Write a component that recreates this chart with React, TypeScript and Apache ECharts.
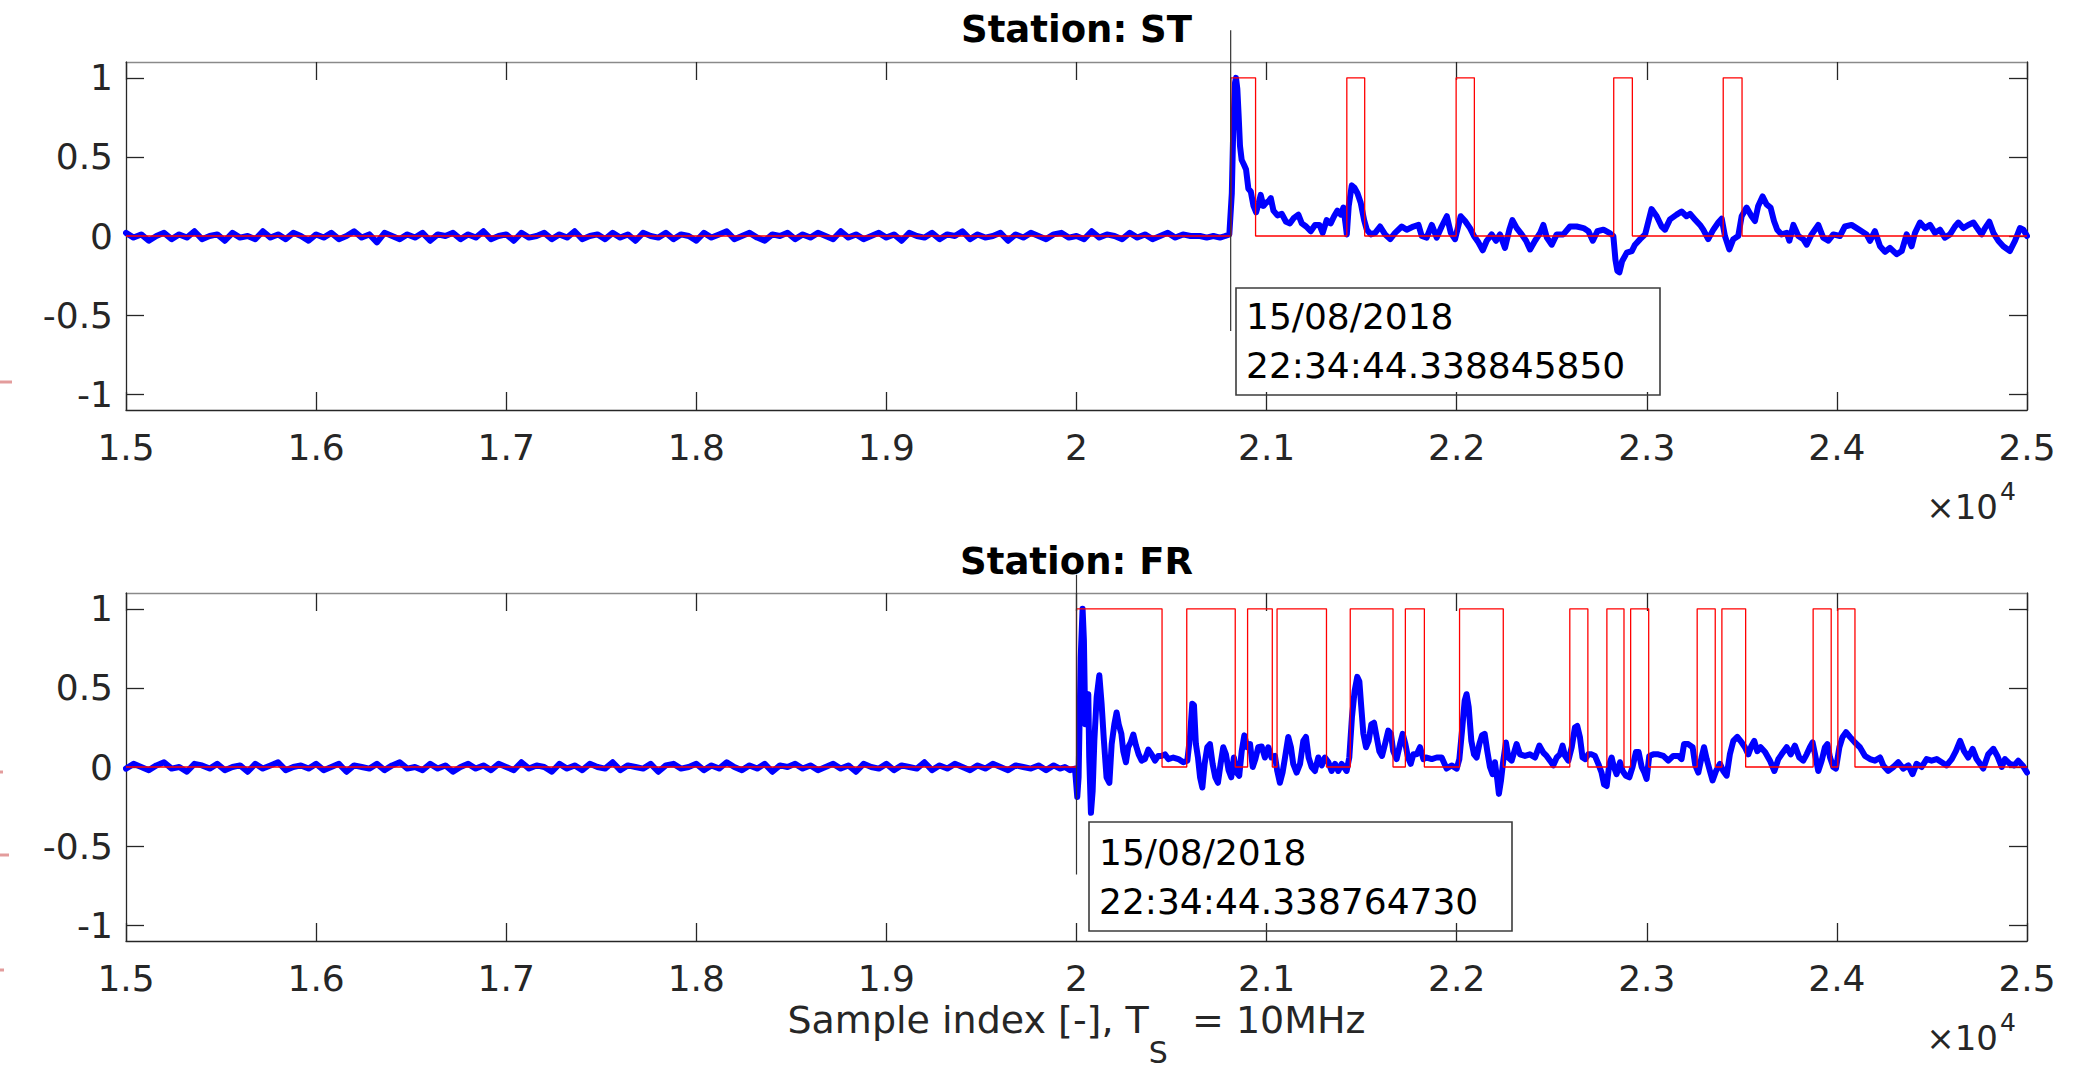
import React, { useEffect, useRef } from 'react';
import * as echarts from 'echarts';

// ---------------- data ----------------
const X_MIN = 15000;
const X_MAX = 25000;
const X_STEP = 1000;
const Y_MIN = -1.1;
const Y_MAX = 1.1;
const yTickValues = [-1, -0.5, 0, 0.5, 1];

const flatStep = 40;

// Station ST: quiet part (15000 .. 20600, every 40 samples)
const stFlatNoise = [
  0.02, -0.01, 0.01, -0.03, 0.0, 0.02, -0.02, 0.01, -0.01, 0.03,
  -0.02, 0.0, 0.01, -0.03, 0.02, -0.01, 0.0, -0.02, 0.03, -0.01,
  0.01, -0.02, 0.02, 0.0, -0.03, 0.01, -0.01, 0.02, -0.02, 0.0,
  0.03, -0.01, 0.01, -0.04, 0.02, 0.0, -0.02, 0.01, -0.01, 0.02,
  -0.03, 0.01, 0.0, 0.02, -0.02, 0.01, -0.01, 0.03, -0.02, 0.0,
  0.01, -0.03, 0.02, -0.01, 0.0, 0.02, -0.02, 0.01, -0.01, 0.03,
  -0.02, 0.0, 0.01, -0.02, 0.02, -0.01, 0.01, -0.03, 0.02, 0.0,
  -0.01, 0.02, -0.02, 0.01, 0.0, -0.03, 0.02, -0.01, 0.01, 0.03,
  -0.02, 0.0, 0.02, -0.01, -0.03, 0.01, 0.0, 0.02, -0.02, 0.01,
  -0.01, 0.02, 0.0, -0.02, 0.03, -0.01, 0.01, -0.02, 0.0, 0.02,
  -0.01, 0.01, -0.03, 0.02, 0.0, -0.01, 0.02, -0.02, 0.01, 0.0,
  0.03, -0.02, 0.01, -0.01, 0.0, 0.02, -0.03, 0.01, -0.01, 0.02,
  0.0, -0.02, 0.01, 0.02, -0.01, 0.0, -0.02, 0.03, -0.01, 0.01,
  0.0, -0.02, 0.02, -0.01, 0.01, -0.02, 0.0, 0.02, -0.01, 0.01,
  0.0,
];

// Station ST: active part [sample, value]
const stActive = [
  [20650, 0.0], [20685, -0.01], [20720, 0.0], [20755, -0.01], [20782, 0.0], [20804, 0.01],
  [20817, 0.27], [20825, 0.7], [20834, 0.97], [20839, 1.0], [20846, 0.93], [20853, 0.76],
  [20860, 0.57], [20869, 0.48], [20881, 0.45], [20892, 0.42], [20904, 0.3], [20917, 0.28],
  [20931, 0.19], [20945, 0.15], [20959, 0.21], [20969, 0.26], [20983, 0.19], [20997, 0.21],
  [21011, 0.22], [21022, 0.24], [21036, 0.16], [21057, 0.13], [21080, 0.14], [21102, 0.09],
  [21123, 0.08], [21144, 0.115], [21167, 0.135], [21185, 0.08], [21208, 0.06], [21232, 0.03],
  [21255, 0.07], [21278, 0.07], [21295, 0.02], [21316, 0.1], [21337, 0.08], [21355, 0.125],
  [21372, 0.16], [21390, 0.135], [21404, 0.18], [21415, 0.08], [21422, 0.01], [21432, 0.19],
  [21448, 0.32], [21462, 0.305], [21478, 0.27], [21495, 0.21], [21513, 0.1], [21527, 0.04],
  [21548, 0.01], [21571, 0.02], [21597, 0.06], [21623, 0.01], [21650, -0.02], [21676, 0.02],
  [21711, 0.06], [21737, 0.04], [21772, 0.06], [21799, 0.07], [21816, 0.0], [21842, -0.01],
  [21869, 0.07], [21895, -0.01], [21921, 0.06], [21948, 0.125], [21969, 0.02], [21991, -0.02],
  [22021, 0.125], [22044, 0.095], [22070, 0.05], [22091, 0.0], [22114, -0.04], [22137, -0.09],
  [22158, -0.03], [22184, 0.01], [22207, -0.03], [22228, 0.01], [22254, -0.075], [22277, 0.04],
  [22293, 0.1], [22316, 0.05], [22342, 0.01], [22365, -0.03], [22386, -0.085], [22412, -0.03],
  [22439, 0.02], [22456, 0.07], [22474, -0.01], [22500, -0.055], [22526, 0.01], [22561, 0.01],
  [22596, 0.06], [22631, 0.06], [22667, 0.05], [22693, 0.03], [22716, -0.03], [22740, 0.03],
  [22772, 0.04], [22803, 0.02], [22824, 0.0], [22835, -0.15], [22845, -0.22], [22856, -0.23],
  [22870, -0.16], [22895, -0.105], [22921, -0.095], [22938, -0.055], [22965, -0.02], [22991, 0.01],
  [23025, 0.17], [23052, 0.125], [23078, 0.06], [23096, 0.04], [23122, 0.105], [23157, 0.135],
  [23183, 0.155], [23209, 0.125], [23227, 0.14], [23253, 0.105], [23280, 0.07], [23297, 0.04],
  [23323, -0.02], [23350, 0.04], [23376, 0.085], [23394, 0.11], [23411, 0.0], [23434, -0.085],
  [23455, -0.02], [23481, 0.0], [23499, 0.125], [23525, 0.18], [23551, 0.125], [23569, 0.095],
  [23586, 0.19], [23609, 0.25], [23630, 0.2], [23651, 0.18], [23669, 0.095], [23686, 0.04],
  [23709, 0.01], [23736, 0.02], [23750, -0.03], [23771, 0.07], [23797, 0.0], [23823, -0.02],
  [23841, -0.055], [23867, 0.01], [23902, 0.07], [23928, -0.01], [23955, -0.03], [23981, 0.01],
  [24016, 0.0], [24042, 0.06], [24077, 0.07], [24104, 0.05], [24130, 0.03], [24156, 0.01],
  [24174, -0.03], [24200, 0.03], [24227, -0.065], [24253, -0.1], [24279, -0.075], [24314, -0.115],
  [24341, -0.095], [24367, 0.01], [24393, -0.065], [24411, 0.02], [24437, 0.085], [24463, 0.05],
  [24490, 0.07], [24516, 0.02], [24542, 0.04], [24568, -0.01], [24595, 0.01], [24621, 0.06],
  [24639, 0.085], [24665, 0.05], [24691, 0.07], [24718, 0.085], [24744, 0.04], [24761, 0.01],
  [24779, 0.05], [24802, 0.09], [24823, 0.02], [24849, -0.03], [24875, -0.065], [24910, -0.095],
  [24937, -0.03], [24963, 0.05], [24981, 0.04], [25000, 0.0],
];

// Station ST: detector pulses [start, end]
const stPulses = [
  [20812, 20942], [21422, 21516], [21997, 22093], [22826, 22924], [23402, 23501],
];

// Station FR: quiet part (15000 .. 19880, every 40 samples)
const frFlatNoise = [
  -0.01, 0.02, 0.0, -0.02, 0.01, 0.03, -0.01, 0.0, -0.03, 0.02,
  0.01, -0.01, 0.02, -0.02, 0.0, 0.01, -0.03, 0.02, -0.01, 0.01,
  0.03, -0.02, 0.0, 0.01, -0.01, 0.02, -0.02, 0.0, 0.02, -0.03,
  0.01, 0.0, -0.01, 0.02, -0.02, 0.01, 0.03, -0.01, 0.0, -0.02,
  0.02, -0.01, 0.01, -0.03, 0.0, 0.02, -0.01, 0.01, -0.02, 0.02,
  0.0, -0.02, 0.03, -0.01, 0.01, 0.0, -0.03, 0.02, -0.01, 0.01,
  -0.02, 0.02, 0.0, -0.01, 0.03, -0.02, 0.01, 0.0, -0.01, 0.02,
  -0.03, 0.01, 0.02, -0.01, 0.0, 0.02, -0.02, 0.01, -0.01, 0.03,
  0.0, -0.02, 0.01, -0.01, 0.02, -0.03, 0.01, 0.0, 0.02, -0.01,
  0.01, -0.02, 0.0, 0.02, -0.01, 0.01, -0.03, 0.02, 0.0, -0.01,
  0.02, -0.02, 0.01, 0.0, -0.01, 0.03, -0.02, 0.01, -0.01, 0.02,
  0.0, -0.02, 0.01, -0.01, 0.02, 0.0, -0.02, 0.01, 0.0, -0.01,
  0.01, -0.02, 0.01,
];

// Station FR: active part [sample, value]
const frActive = [
  [19913, -0.01], [19939, 0.0], [19966, -0.02], [19992, -0.01], [20004, -0.19], [20011, -0.065],
  [20022, 0.69], [20032, 1.0], [20039, 0.8], [20046, 0.27], [20053, 0.42], [20062, 0.46],
  [20067, 0.06], [20076, -0.29], [20085, -0.15], [20094, 0.17], [20106, 0.44], [20120, 0.58],
  [20132, 0.4], [20144, 0.17], [20158, -0.065], [20173, -0.1], [20185, 0.145], [20199, 0.27],
  [20211, 0.345], [20222, 0.27], [20236, 0.21], [20246, 0.1], [20260, 0.03], [20272, 0.125],
  [20285, 0.155], [20299, 0.205], [20313, 0.135], [20327, 0.08], [20343, 0.04], [20360, 0.05],
  [20378, 0.11], [20395, 0.08], [20413, 0.04], [20430, 0.07], [20448, 0.07], [20465, 0.08],
  [20483, 0.05], [20509, 0.06], [20536, 0.05], [20562, 0.03], [20583, 0.04], [20597, 0.19],
  [20609, 0.4], [20618, 0.39], [20628, 0.145], [20639, 0.06], [20650, -0.065], [20662, -0.13],
  [20674, 0.02], [20688, 0.125], [20702, 0.145], [20716, 0.02], [20730, -0.065], [20744, -0.1],
  [20758, 0.02], [20772, 0.125], [20786, 0.08], [20800, -0.02], [20814, -0.065], [20828, 0.06],
  [20842, -0.035], [20856, -0.055], [20869, 0.1], [20883, 0.2], [20898, 0.125], [20913, 0.145],
  [20927, 0.0], [20941, 0.05], [20956, 0.125], [20974, 0.13], [20991, 0.06], [21009, 0.125],
  [21026, 0.06], [21044, 0.07], [21056, -0.025], [21070, -0.1], [21084, -0.035], [21097, 0.06],
  [21114, 0.19], [21128, 0.125], [21140, 0.02], [21158, -0.035], [21176, 0.02], [21193, 0.165],
  [21207, 0.19], [21221, 0.06], [21237, 0.0], [21254, -0.025], [21272, 0.06], [21290, 0.01],
  [21307, 0.06], [21325, 0.03], [21342, -0.025], [21360, 0.02], [21377, -0.025], [21395, 0.02],
  [21421, -0.025], [21435, 0.06], [21449, 0.315], [21463, 0.48], [21477, 0.57], [21488, 0.54],
  [21498, 0.38], [21509, 0.21], [21523, 0.125], [21537, 0.165], [21551, 0.27], [21565, 0.28],
  [21579, 0.19], [21593, 0.1], [21607, 0.07], [21623, 0.145], [21640, 0.23], [21654, 0.21],
  [21666, 0.1], [21684, 0.05], [21702, 0.145], [21716, 0.21], [21730, 0.145], [21744, 0.06],
  [21758, 0.02], [21772, 0.08], [21790, 0.08], [21807, 0.125], [21825, 0.05], [21842, 0.06],
  [21869, 0.05], [21895, 0.06], [21921, 0.06], [21947, -0.01], [21973, 0.01], [22000, -0.01],
  [22014, 0.05], [22028, 0.23], [22042, 0.42], [22052, 0.46], [22063, 0.38], [22077, 0.165],
  [22091, 0.08], [22105, 0.06], [22119, 0.145], [22133, 0.2], [22147, 0.21], [22161, 0.1],
  [22175, 0.0], [22189, -0.045], [22201, 0.03], [22214, -0.085], [22222, -0.17], [22233, -0.085],
  [22245, 0.04], [22259, 0.155], [22272, 0.06], [22289, 0.04], [22315, 0.145], [22333, 0.08],
  [22359, 0.07], [22385, 0.08], [22412, 0.06], [22435, 0.135], [22456, 0.09], [22473, 0.07],
  [22491, 0.04], [22508, 0.01], [22526, 0.06], [22543, 0.08], [22557, 0.135], [22570, 0.07],
  [22587, 0.04], [22605, 0.125], [22622, 0.25], [22634, 0.26], [22648, 0.19], [22662, 0.06],
  [22676, 0.05], [22692, 0.08], [22710, 0.08], [22727, 0.07], [22745, 0.02], [22762, -0.035],
  [22775, -0.11], [22789, -0.12], [22803, 0.02], [22815, 0.06], [22827, 0.0], [22841, -0.045],
  [22859, 0.03], [22873, -0.025], [22890, -0.055], [22908, -0.065], [22925, 0.0], [22943, 0.095],
  [22957, 0.095], [22973, 0.0], [22987, -0.035], [22999, -0.075], [23013, 0.07], [23034, 0.08],
  [23060, 0.08], [23087, 0.07], [23113, 0.04], [23139, 0.07], [23166, 0.07], [23183, 0.05],
  [23196, 0.145], [23218, 0.145], [23241, 0.125], [23255, 0.01], [23271, -0.035], [23288, 0.06],
  [23301, 0.125], [23315, 0.05], [23332, -0.025], [23346, -0.085], [23364, -0.025], [23385, 0.02],
  [23402, -0.025], [23420, -0.055], [23437, 0.08], [23455, 0.165], [23476, 0.19], [23499, 0.155],
  [23516, 0.125], [23534, 0.08], [23551, 0.135], [23565, 0.165], [23581, 0.1], [23599, 0.125],
  [23622, 0.095], [23648, 0.04], [23671, -0.025], [23692, 0.05], [23709, 0.08], [23736, 0.125],
  [23757, 0.08], [23779, 0.135], [23802, 0.06], [23823, 0.04], [23841, 0.08], [23858, 0.125],
  [23872, 0.155], [23885, 0.08], [23902, -0.025], [23920, 0.04], [23937, 0.125], [23950, 0.145],
  [23964, 0.06], [23981, 0.0], [23995, -0.01], [24013, 0.125], [24030, 0.19], [24048, 0.22],
  [24069, 0.19], [24095, 0.155], [24121, 0.125], [24148, 0.07], [24174, 0.05], [24200, 0.04],
  [24227, 0.06], [24244, 0.01], [24270, -0.025], [24297, 0.0], [24323, 0.03], [24349, -0.01],
  [24376, 0.01], [24398, -0.045], [24419, 0.02], [24446, 0.0], [24472, 0.05], [24498, 0.04],
  [24525, 0.05], [24551, 0.03], [24577, 0.01], [24604, 0.05], [24626, 0.1], [24648, 0.165],
  [24669, 0.1], [24691, 0.06], [24714, 0.115], [24735, 0.05], [24753, 0.02], [24770, -0.01],
  [24796, 0.08], [24823, 0.115], [24844, 0.07], [24867, 0.0], [24884, 0.05], [24910, 0.02],
  [24932, 0.01], [24954, 0.04], [24977, 0.01], [25000, -0.035],
];

// Station FR: detector pulses [start, end]
const frPulses = [
  [20000, 20450], [20580, 20835], [20900, 21030], [21055, 21315], [21440, 21665],
  [21730, 21830], [22015, 22245], [22595, 22690], [22790, 22880], [22915, 23010],
  [23265, 23360], [23395, 23520], [23875, 23970], [24005, 24095],
];

// trigger markers: [sample, top value, bottom value]
const stTrigger = [20811, 1.3, -0.6];
const frTrigger = [20000, 1.215, -0.68];

const stTitle = 'Station: ST';
const frTitle = 'Station: FR';
const stStamp = ['15/08/2018', '22:34:44.338845850'];
const frStamp = ['15/08/2018', '22:34:44.338764730'];

// ---------------- helpers ----------------
const FONT = '"DejaVu Sans", "Liberation Sans", sans-serif';
const AXIS_COLOR = '#262626';
const TOP_COLOR = '#8a8a8a';
const TICK_FONT = 36;

const buildSignal = (noise: number[], active: number[][]) =>
  noise.map((v, i) => [X_MIN + i * flatStep, v]).concat(active.map((p) => [p[0], p[1]]));

const buildPulses = (pulses: number[][]) => {
  const pts: number[][] = [[X_MIN, 0]];
  pulses.forEach(([s, e]) => {
    pts.push([s, 0], [s, 1], [e, 1], [e, 0]);
  });
  pts.push([X_MAX, 0]);
  return pts;
};

const fmtX = (v: number) => String(parseFloat((v / 10000).toFixed(2)));

const makeX = (gridIndex: number, position: 'bottom' | 'top', extra: any = {}) => ({
  type: 'value',
  gridIndex,
  position,
  min: X_MIN,
  max: X_MAX,
  interval: X_STEP,
  axisLine: {
    show: true,
    onZero: false,
    lineStyle: { color: position === 'top' ? TOP_COLOR : AXIS_COLOR, width: 1.3 },
  },
  axisTick: { show: true, inside: true, length: 18, lineStyle: { color: AXIS_COLOR, width: 1.3 } },
  axisLabel:
    position === 'bottom'
      ? { show: true, formatter: fmtX, fontSize: TICK_FONT, fontFamily: FONT, color: AXIS_COLOR, margin: 19 }
      : { show: false },
  splitLine: { show: false },
  ...extra,
});

const makeY = (gridIndex: number, position: 'left' | 'right') => ({
  type: 'value',
  gridIndex,
  position,
  min: Y_MIN,
  max: Y_MAX,
  axisLine: { show: true, onZero: false, lineStyle: { color: AXIS_COLOR, width: 1.3 } },
  axisTick: {
    show: true,
    inside: true,
    length: 18,
    customValues: yTickValues,
    lineStyle: { color: AXIS_COLOR, width: 1.3 },
  },
  axisLabel:
    position === 'left'
      ? { show: true, customValues: yTickValues, fontSize: TICK_FONT, fontFamily: FONT, color: AXIS_COLOR, margin: 13 }
      : { show: false },
  splitLine: { show: false },
});

const signalSeries = (idx: number, data: number[][]) => ({
  type: 'line',
  xAxisIndex: idx * 2,
  yAxisIndex: idx * 2,
  data,
  showSymbol: false,
  symbol: 'none',
  lineStyle: { color: '#0000ff', width: 6, cap: 'round', join: 'round' },
  z: 2,
  silent: true,
});

const pulseSeries = (idx: number, data: number[][]) => ({
  type: 'line',
  xAxisIndex: idx * 2,
  yAxisIndex: idx * 2,
  data,
  showSymbol: false,
  symbol: 'none',
  lineStyle: { color: '#ff0000', width: 1.3 },
  z: 3,
  silent: true,
});

const triggerSeries = (idx: number, t: number[]) => ({
  type: 'line',
  xAxisIndex: idx * 2,
  yAxisIndex: idx * 2,
  data: [
    [t[0], t[1]],
    [t[0], t[2]],
  ],
  clip: false,
  showSymbol: false,
  symbol: 'none',
  lineStyle: { color: '#333333', width: 1.2 },
  z: 4,
  silent: true,
});

const stampGraphics = (box: number[], lines: string[], lineY: number[]) => [
  {
    type: 'rect',
    shape: { x: box[0], y: box[1], width: box[2], height: box[3] },
    style: { fill: 'none', stroke: '#3c3c3c', lineWidth: 1.6 },
    z: 10,
  },
  ...lines.map((t, i) => ({
    type: 'text',
    x: box[0] + 10,
    y: lineY[i],
    style: {
      text: t,
      fontSize: 36,
      fontFamily: FONT,
      fill: '#000',
      textVerticalAlign: 'middle',
      verticalAlign: 'middle',
    },
    z: 10,
  })),
];

const exponentGraphics = (yMid: number) => [
  {
    type: 'text',
    x: 1998,
    y: yMid,
    style: {
      text: '×10',
      fontSize: 34,
      fontFamily: FONT,
      fill: AXIS_COLOR,
      textAlign: 'right',
      align: 'right',
      textVerticalAlign: 'middle',
      verticalAlign: 'middle',
    },
  },
  {
    type: 'text',
    x: 2000,
    y: yMid - 16,
    style: {
      text: '4',
      fontSize: 25,
      fontFamily: FONT,
      fill: AXIS_COLOR,
      textVerticalAlign: 'middle',
      verticalAlign: 'middle',
    },
  },
];

const redMark = (y: number, len: number) => ({
  type: 'line',
  shape: { x1: 0, y1: y, x2: len, y2: y },
  style: { stroke: '#e39c9c', lineWidth: 3 },
});

export default function App() {
  const ref = useRef<HTMLDivElement>(null);

  useEffect(() => {
    if (!ref.current) return;
    const chart = echarts.init(ref.current, undefined, { renderer: 'svg' });

    const option: any = {
      animation: false,
      backgroundColor: '#ffffff',
      title: [
        {
          text: stTitle,
          left: 1076.5,
          top: 11,
          textAlign: 'center',
          padding: 0,
          textStyle: { fontSize: 37, fontWeight: 'bold', fontFamily: FONT, color: '#000' },
        },
        {
          text: frTitle,
          left: 1076.5,
          top: 543,
          textAlign: 'center',
          padding: 0,
          textStyle: { fontSize: 37, fontWeight: 'bold', fontFamily: FONT, color: '#000' },
        },
      ],
      grid: [
        { left: 126, right: 53, top: 62, height: 348, containLabel: false },
        { left: 126, right: 53, top: 593, height: 349, containLabel: false },
      ],
      xAxis: [
        makeX(0, 'bottom'),
        makeX(0, 'top'),
        makeX(1, 'bottom', {
          name: '{a|Sample index [-], T}{s|S}{a|  = 10MHz}',
          nameLocation: 'middle',
          nameGap: 60,
          nameTextStyle: {
            rich: {
              a: { fontSize: 38, fontFamily: FONT, color: AXIS_COLOR, lineHeight: 40, verticalAlign: 'top' },
              s: {
                fontSize: 30,
                fontFamily: FONT,
                color: AXIS_COLOR,
                lineHeight: 28,
                padding: [36, 0, 0, 0],
                verticalAlign: 'top',
              },
            },
          },
        }),
        makeX(1, 'top'),
      ],
      yAxis: [makeY(0, 'left'), makeY(0, 'right'), makeY(1, 'left'), makeY(1, 'right')],
      series: [
        signalSeries(0, buildSignal(stFlatNoise, stActive)),
        pulseSeries(0, buildPulses(stPulses)),
        triggerSeries(0, stTrigger),
        signalSeries(1, buildSignal(frFlatNoise, frActive)),
        pulseSeries(1, buildPulses(frPulses)),
        triggerSeries(1, frTrigger),
      ],
      graphic: [
        ...stampGraphics([1236, 288, 424, 107], stStamp, [316, 365]),
        ...stampGraphics([1089, 822, 423, 109], frStamp, [852, 901]),
        ...exponentGraphics(507),
        ...exponentGraphics(1038),
        redMark(382, 12),
        redMark(772, 3),
        redMark(855, 9),
        redMark(970, 4),
      ],
    };

    chart.setOption(option);
    return () => chart.dispose();
  }, []);

  return (
    <div
      ref={ref}
      style={{ position: 'fixed', left: 0, top: 0, width: 2080, height: 1068, background: '#fff' }}
    />
  );
}
